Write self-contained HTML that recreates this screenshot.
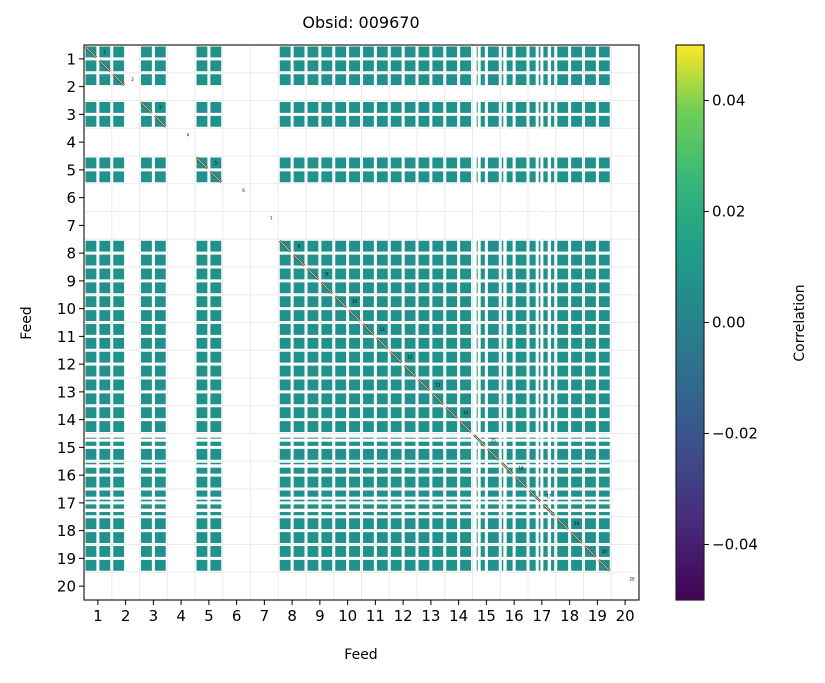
<!DOCTYPE html>
<html><head><meta charset="utf-8"><style>
body{margin:0;background:#fff;}
svg text{font-family:"DejaVu Sans","Liberation Sans",sans-serif;fill:#000;}
</style></head><body>
<svg id="c" width="825" height="678" xmlns="http://www.w3.org/2000/svg">
<defs><linearGradient id="vir" x1="0" y1="1" x2="0" y2="0">
<stop offset="0" stop-color="#440154"/><stop offset="0.13" stop-color="#482878"/><stop offset="0.25" stop-color="#3e4989"/><stop offset="0.38" stop-color="#31688e"/><stop offset="0.5" stop-color="#26828e"/><stop offset="0.63" stop-color="#1f9e89"/><stop offset="0.75" stop-color="#35b779"/><stop offset="0.88" stop-color="#6ece58"/><stop offset="1" stop-color="#fde725"/></linearGradient></defs>
<text x="361" y="28" font-size="16" text-anchor="middle">Obsid: 009670</text>
<g id="plot"></g>
<rect x="676" y="45" width="28" height="555" fill="url(#vir)" stroke="#222" stroke-width="1.2"/>
<g id="cbar"></g>
<text x="0" y="0" font-size="14" text-anchor="middle" transform="translate(804,323) rotate(-90)">Correlation</text>
<text x="361" y="659" font-size="14" text-anchor="middle">Feed</text>
<text x="0" y="0" font-size="14" text-anchor="middle" transform="translate(31,323) rotate(-90)">Feed</text>
</svg>
<script>
const feeds=[1,2,3,4,5,6,7,8,9,10,11,12,13,14,15,16,17,18,19,20];
const firstHalfValid=[1,1,1,0,1,0,0,1,1,1,1,1,1,1,1,1,1,1,1,0];
const secondHalfValid=[1,0,1,0,1,0,0,1,1,1,1,1,1,1,1,1,1,1,1,0];
const maskedStart=[14.054,14.187,15.11,16.277,16.71];
const maskedEnd=[14.151,14.295,15.232,16.385,16.83];
const corrValue=0.0;
const cbarTicks=[0.04,0.02,0.00,-0.02,-0.04];
const cbarLabels=["0.04","0.02","0.00","\u22120.02","\u22120.04"];
const X0=84,Y0=45,W=555,H=555,N=feeds.length;
const fx=i=>X0+i*W/N, fy=i=>Y0+i*H/N, sub=W/N/2;
const cy=v=>322.5-v*5550;
const ns="http://www.w3.org/2000/svg";
const plot=document.getElementById('plot');
function mk(t,a,p){const e=document.createElementNS(ns,t);for(const k in a)e.setAttribute(k,a[k]);(p||plot).appendChild(e);return e;}
for(let i=0;i<=N;i++){
 let l=mk('line',{x1:fx(i),x2:fx(i),y1:Y0,y2:Y0+H,stroke:'#ebebeb','stroke-width':1});
 
 
 let m=mk('line',{x1:X0,x2:X0+W,y1:fy(i),y2:fy(i),stroke:'#ebebeb','stroke-width':1});
 
 
}
const valid=[];feeds.forEach((f,i)=>{valid.push(firstHalfValid[i]);valid.push(secondHalfValid[i]);});
function col(v){return v>0.01?'#35b779':v<-0.01?'#31688e':'#21918c';}
for(let r=0;r<2*N;r++)for(let c=0;c<2*N;c++){
 if(!valid[r]||!valid[c])continue;
 const x=X0+c*sub+1.5,y=Y0+r*sub+1.5,s=sub-3;
 const t=mk('rect',{x:x,y:y,width:s,height:s,fill:col(corrValue)});
 
 
}
maskedStart.forEach((a,i)=>{
 const b=maskedEnd[i];
 const h=mk('rect',{x:X0,y:fy(a),width:W,height:fy(b)-fy(a),fill:'#fff'});
 
 
 const v=mk('rect',{x:fx(a),y:Y0,width:fx(b)-fx(a),height:H,fill:'#fff'});
 
 
});
for(let r=0;r<2*N;r++){
 if(!valid[r])continue;
 const x=X0+r*sub+1.5,y=Y0+r*sub+1.5,s=sub-3;
 const d=mk('line',{x1:x,y1:y,x2:x+s,y2:y+s,stroke:'#3b528b','stroke-width':2.5});
 
 
 const d2=mk('line',{x1:x,y1:y,x2:x+s,y2:y+s,stroke:'#fde725','stroke-width':0.8});
 
 
}
feeds.forEach((f,i)=>{
 const t=mk('text',{x:fx(i)+sub*1.5,y:fy(i)+sub*0.6,'font-size':4,'text-anchor':'middle',fill:'#333'});
 t.textContent=f;
 
 
});
const fr=mk('rect',{x:X0,y:Y0,width:W,height:H,fill:'none',stroke:'#222','stroke-width':1.2});


feeds.forEach((f,i)=>{
 const cx=fx(i)+W/N/2;
 mk('line',{x1:cx,x2:cx,y1:Y0+H,y2:Y0+H+5,stroke:'#000'});
 const t=mk('text',{x:cx,y:Y0+H+21,'font-size':15,'text-anchor':'middle'});t.textContent=f;
 
 
 const cyy=fy(i)+H/N/2;
 mk('line',{x1:X0-5,x2:X0,y1:cyy,y2:cyy,stroke:'#000'});
 const u=mk('text',{x:X0-8,y:cyy+5.5,'font-size':15,'text-anchor':'end'});u.textContent=f;
 
 
});
const cb=document.getElementById('cbar');
cbarTicks.forEach((v,i)=>{
 mk('line',{x1:704,x2:709,y1:cy(v),y2:cy(v),stroke:'#000'},cb);
 const t=mk('text',{x:712,y:cy(v)+5,'font-size':15},cb);t.textContent=cbarLabels[i];
 
 
});
</script>
</body></html>
